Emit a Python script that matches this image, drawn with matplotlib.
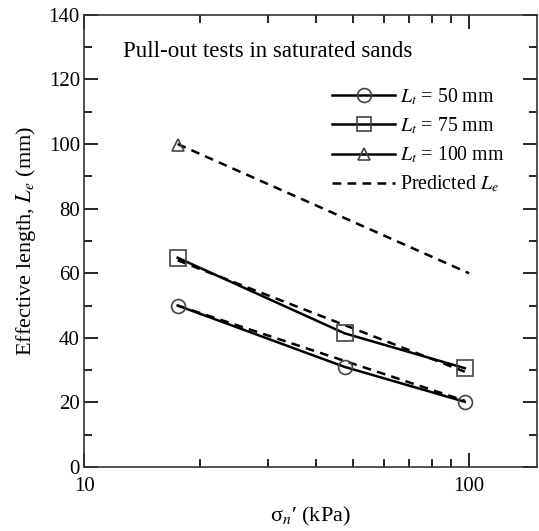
import matplotlib
matplotlib.use("Agg")
import matplotlib.pyplot as plt
from matplotlib.ticker import FixedLocator, NullFormatter, MultipleLocator

plt.rcParams['font.family'] = ['Liberation Serif', 'DejaVu Serif']
plt.rcParams['mathtext.fontset'] = 'stix'

sigma = [17.5, 47.5, 97.5]
le_50 = [50, 31, 20.2]
le_75 = [64.8, 41.4, 30.6]
le_100 = [99.6]
sigma_100 = [17.5]

pred_x = [17.5, 97.5]
pred_x_100 = [17.5, 100]
pred_50 = [50, 20.5]
pred_75 = [64, 29.5]
pred_100 = [100, 60]

DASH = (0, (3.5, 2.5))

fig = plt.figure(figsize=(5.39, 5.31), dpi=100)
ax = fig.add_axes([0.156, 0.1205, 0.840, 0.8515])

ax.plot(pred_x, pred_50, ls=DASH, color='black', lw=1.8, zorder=2)
ax.plot(pred_x, pred_75, ls=DASH, color='black', lw=1.8, zorder=2)
ax.plot(pred_x_100, pred_100, ls=DASH, color='black', lw=1.8, zorder=2)

mk = dict(markerfacecolor='none', markeredgecolor='#444444', markeredgewidth=1.2)
ax.plot(sigma, le_50, '-', color='black', lw=1.8, marker='o', markersize=10, zorder=3, **mk)
ax.plot(sigma, le_75, '-', color='black', lw=1.8, marker='s', markersize=11, zorder=3, **mk)
ax.plot(sigma_100, le_100, '-', color='black', lw=1.8, marker='^', markersize=9, zorder=3, **mk)

# legend handles
h1, = ax.plot([], [], '-', color='black', lw=1.8, marker='o', markersize=10, **mk)
h2, = ax.plot([], [], '-', color='black', lw=1.8, marker='s', markersize=10, **mk)
h3, = ax.plot([], [], '-', color='black', lw=1.8, marker='^', markersize=9, **mk)
h4, = ax.plot([], [], ls=DASH, color='black', lw=1.8)
ax.legend([h1, h2, h3, h4],
          [r'$L_t$ = 50 mm', r'$L_t$ = 75 mm', r'$L_t$ = 100 mm', r'Predicted $L_e$'],
          loc='upper left', bbox_to_anchor=(0.547, 0.842), frameon=False,
          borderpad=0, borderaxespad=0,
          fontsize=14.3, handlelength=3.2, handletextpad=0.25, labelspacing=0.43)

ax.set_xscale('log')
ax.set_xlim(10, 150)
ax.set_ylim(0, 140)
ax.xaxis.set_major_locator(FixedLocator([10, 100]))
ax.xaxis.set_minor_locator(FixedLocator([20, 30, 40, 50, 60, 70, 80, 90]))
ax.xaxis.set_minor_formatter(NullFormatter())
ax.set_xticklabels(['10', '100'])
ax.yaxis.set_major_locator(MultipleLocator(20))
ax.yaxis.set_minor_locator(MultipleLocator(10))

ax.tick_params(which='both', direction='in', top=True, right=True, labelsize=15, width=1.2, colors='black')
ax.tick_params(axis='y', which='major', length=10, pad=3)
ax.tick_params(axis='y', which='minor', length=6)
ax.tick_params(axis='x', which='major', length=10, pad=7)
ax.tick_params(axis='x', which='minor', length=6)
for s in ax.spines.values():
    s.set_linewidth(1.2)
    s.set_color('#333333')

ax.set_xlabel('σ$_n$′ (kPa)', fontsize=16, labelpad=7)
ax.set_ylabel(r'Effective length, $L_e$ (mm)', fontsize=16, labelpad=8)

ax.text(0.087, 0.918, 'Pull-out tests in saturated sands', transform=ax.transAxes,
        fontsize=16.5, ha='left', va='center')

fig.savefig('out.png', dpi=100)
